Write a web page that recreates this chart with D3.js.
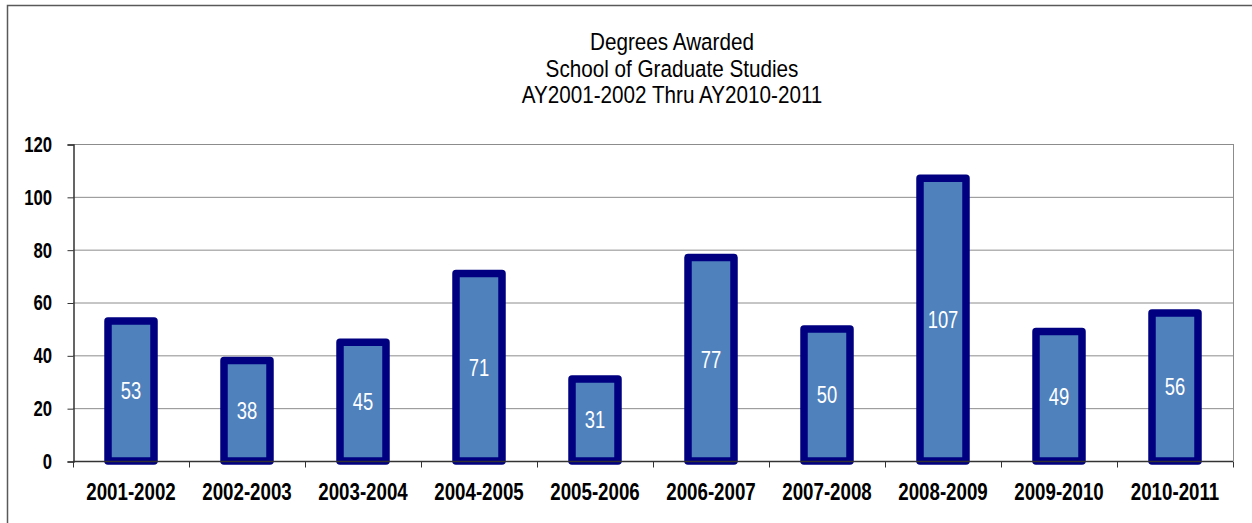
<!DOCTYPE html>
<html>
<head>
<meta charset="utf-8">
<script src="https://cdn.jsdelivr.net/npm/d3@7"></script>
<style>
  body { margin: 0; background: #fff; }
  text { font-family: "Liberation Sans", Arial, sans-serif; }
</style>
</head>
<body>
<div class="degrees-chart"></div>
<script>
const years = ["2001-2002", "2002-2003", "2003-2004", "2004-2005", "2005-2006",
    "2006-2007", "2007-2008", "2008-2009", "2009-2010", "2010-2011"]
const degrees = [53, 38, 45, 71, 31, 77, 50, 107, 49, 56]
const yTicks = [0, 20, 40, 60, 80, 100, 120]
const titleLines = ["Degrees Awarded", "School of Graduate Studies", "AY2001-2002 Thru AY2010-2011"]

const width = 1252
const height = 523
const margin = { top: 144, right: 19, bottom: 62, left: 73 }

const svg = d3.select(".degrees-chart")
    .append("svg")
    .attr("width", width)
    .attr("height", height)

// narrow-looking text: plain font squeezed horizontally
function narrow(sel, sx) {
    return sel.attr("transform", function () {
        const t = d3.select(this)
        return `translate(${t.attr("data-x")}, ${t.attr("data-y")}) scale(${sx}, 1)`
    })
}

// outer frame
svg.append("rect")
    .attr("x", 7.5)
    .attr("y", 5.5)
    .attr("width", width)
    .attr("height", height)
    .attr("fill", "none")
    .attr("stroke", "#595959")
    .attr("stroke-width", 1.5)

// x, y scales
const x = d3.scaleBand()
    .domain(years)
    .range([margin.left, width - margin.right])

const y = d3.scaleLinear()
    .domain([0, 120])
    .range([height - margin.bottom, margin.top])

// gridlines
svg.append("g")
    .selectAll("line")
    .data(yTicks)
    .join("line")
    .attr("x1", margin.left)
    .attr("x2", width - margin.right)
    .attr("y1", d => y(d) + 0.5)
    .attr("y2", d => y(d) + 0.5)
    .attr("stroke", "#8c8c8c")
    .attr("stroke-width", 1)

// right edge of plot area
svg.append("line")
    .attr("x1", width - margin.right + 0.5)
    .attr("x2", width - margin.right + 0.5)
    .attr("y1", margin.top)
    .attr("y2", height - margin.bottom)
    .attr("stroke", "#8c8c8c")

// y axis (labels drawn separately)
const yAxis = d3.axisLeft(y).tickValues(yTicks).tickSize(6).tickFormat("")
svg.append("g")
    .attr("class", "yAxis")
    .attr("transform", `translate(${margin.left + 0.5}, 0.5)`)
    .call(yAxis)
    .call(g => g.select(".domain").attr("stroke", "#333").attr("stroke-width", 1.5))
    .call(g => g.selectAll(".tick line").attr("stroke", "#333"))

svg.append("g")
    .selectAll("text")
    .data(yTicks)
    .join("text")
    .attr("data-x", 52)
    .attr("data-y", d => y(d))
    .attr("dy", "0.36em")
    .attr("text-anchor", "end")
    .attr("font-size", 22)
    .attr("font-weight", "bold")
    .attr("fill", "#000")
    .text(d => d)
    .call(narrow, 0.76)

// bars
svg.append("g")
    .selectAll("rect")
    .data(degrees)
    .join("rect")
    .attr("x", (d, i) => x(years[i]) + x.bandwidth() / 2 - 23)
    .attr("width", 46)
    .attr("y", d => y(d))
    .attr("height", d => y(0) - y(d))
    .attr("fill", "#4f81bd")
    .attr("stroke", "#000080")
    .attr("stroke-width", 7.5)
    .attr("stroke-linejoin", "round")

// x axis (band boundaries as ticks)
svg.append("g")
    .attr("class", "xAxis")
    .attr("transform", `translate(0, ${y(0) + 0.5})`)
    .call(g => g.append("line")
        .attr("x1", margin.left)
        .attr("x2", width - margin.right)
        .attr("stroke", "#333")
        .attr("stroke-width", 1.5))
    .call(g => g.selectAll("line.tick")
        .data(years.concat(["end"]))
        .join("line")
        .attr("class", "tick")
        .attr("x1", (d, i) => margin.left + i * x.bandwidth() + 0.5)
        .attr("x2", (d, i) => margin.left + i * x.bandwidth() + 0.5)
        .attr("y1", 0)
        .attr("y2", 6)
        .attr("stroke", "#333"))

svg.append("g")
    .selectAll("text")
    .data(years)
    .join("text")
    .attr("data-x", d => x(d) + x.bandwidth() / 2)
    .attr("data-y", y(0) + 39)
    .attr("text-anchor", "middle")
    .attr("font-size", 24)
    .attr("font-weight", "bold")
    .attr("fill", "#000")
    .text(d => d)
    .call(narrow, 0.78)

// value labels inside bars
svg.append("g")
    .selectAll("text")
    .data(degrees)
    .join("text")
    .attr("data-x", (d, i) => x(years[i]) + x.bandwidth() / 2)
    .attr("data-y", d => (y(d) + y(0)) / 2)
    .attr("dy", "0.36em")
    .attr("text-anchor", "middle")
    .attr("font-size", 23)
    .attr("fill", "#fff")
    .text(d => d)
    .call(narrow, 0.8)

// title
svg.append("g")
    .selectAll("text")
    .data(titleLines)
    .join("text")
    .attr("data-x", 672)
    .attr("data-y", (d, i) => 50 + i * 26.5)
    .attr("text-anchor", "middle")
    .attr("font-size", 23.5)
    .attr("fill", "#000")
    .text(d => d)
    .call(narrow, 0.88)
</script>
</body>
</html>
